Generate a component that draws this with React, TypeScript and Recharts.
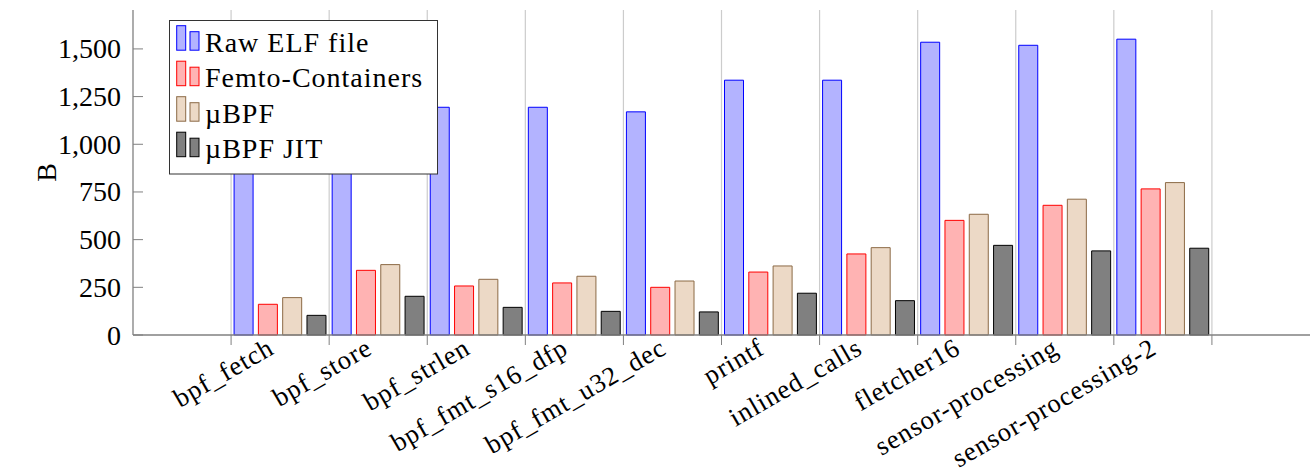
import React from 'react';
import { BarChart, Bar, XAxis, YAxis, CartesianGrid, Legend } from 'recharts';

// benchmark names, padded with an empty slot on each side like the original plot
const categories = [
  'bpf_fetch',
  'bpf_store',
  'bpf_strlen',
  'bpf_fmt_s16_dfp',
  'bpf_fmt_u32_dec',
  'printf',
  'inlined_calls',
  'fletcher16',
  'sensor-processing',
  'sensor-processing-2',
];

const rawElf = [1150, 1160, 1194, 1194, 1170, 1336, 1336, 1535, 1519, 1551];
const femto = [161, 339, 257, 273, 250, 330, 425, 601, 680, 766];
const ubpf = [196, 369, 292, 308, 283, 362, 458, 633, 712, 799];
const ubpfJit = [103, 203, 145, 124, 121, 219, 180, 470, 441, 455];

const yTicks = [0, 250, 500, 750, 1000, 1250, 1500];

const FONT = 'Liberation Serif, serif';
const AXIS = '#808080';

const series = [
  { key: 'raw', name: 'Raw ELF file', fill: '#b3b3ff', stroke: '#0000ff' },
  { key: 'femto', name: 'Femto-Containers', fill: '#ffb3b3', stroke: '#ff0000' },
  { key: 'ubpf', name: 'µBPF', fill: '#ecd9c6', stroke: '#8c6a46' },
  { key: 'jit', name: 'µBPF JIT', fill: '#808080', stroke: '#000000' },
];

const data = [
  { name: '_l' },
  ...categories.map((name, i) => ({
    name,
    raw: rawElf[i],
    femto: femto[i],
    ubpf: ubpf[i],
    jit: ubpfJit[i],
  })),
  { name: '_r' },
];

const fmt = (v: number) => v.toLocaleString('en-US');

const textStyle = { fontFamily: FONT, fontSize: 28, fill: '#000' };

const YTick = ({ x, y, payload }: any) => (
  <g>
    <line x1={x} x2={x + 10} y1={y} y2={y} stroke={AXIS} strokeWidth={1} />
    <text x={x - 12} y={y} textAnchor="end" dominantBaseline="central" style={textStyle}>
      {fmt(payload.value)}
    </text>
  </g>
);

const XTick = ({ x, y, payload, index }: any) => {
  const half = payload.offset ?? 49;
  const left = x - half;
  const label = payload.value === '_l' || payload.value === '_r' ? '' : payload.value;
  const lx = x - 9;
  const ly = y + 10;
  return (
    <g>
      {index >= 1 && (
        <line x1={left} x2={left} y1={y} y2={y + 10} stroke={AXIS} strokeWidth={1} />
      )}
      {label && (
        <text
          x={lx}
          y={ly}
          textAnchor="end"
          dominantBaseline="central"
          transform={`rotate(-30, ${lx}, ${ly})`}
          style={{ ...textStyle, fontSize: 26.5, letterSpacing: 1 }}
        >
          {label}
        </text>
      )}
    </g>
  );
};

const LegendBox = () => {
  const rowH = 35.5;
  return (
    <svg width={270} height={156} style={{ display: 'block' }}>
      <rect x={0.5} y={0.5} width={268} height={153.5} fill="#fff" stroke="#333" strokeWidth={1} />
      {series.map((s, i) => {
        const base = 31.7 + i * rowH;
        return (
          <g key={s.key}>
            <rect x={7.7} y={base - 26} width={9} height={24.5} fill={s.fill} stroke={s.stroke} />
            <rect x={21} y={base - 20} width={9} height={18.5} fill={s.fill} stroke={s.stroke} />
            <text x={36} y={base} style={{ ...textStyle, letterSpacing: 1 }}>
              {s.name}
            </text>
          </g>
        );
      })}
    </svg>
  );
};

const YLabel = ({ viewBox }: any) => {
  const cx = 46;
  const cy = viewBox.y + viewBox.height / 2;
  return (
    <text
      x={cx}
      y={cy}
      textAnchor="middle"
      dominantBaseline="central"
      transform={`rotate(-90, ${cx}, ${cy})`}
      style={textStyle}
    >
      B
    </text>
  );
};

export default function App() {
  return (
    <div style={{ position: 'absolute', left: 0, top: 0, background: '#fff', fontFamily: FONT }}>
      <BarChart
        width={1312}
        height={475}
        data={data}
        margin={{ top: 10, right: 2, bottom: 0, left: 0 }}
        barSize={19}
        barGap={5.3}
      >
        <CartesianGrid
          horizontal={false}
          stroke="#cccccc"
          strokeWidth={1.2}
          verticalCoordinatesGenerator={({ offset }: any) =>
            data.slice(1).map((_, i) => offset.left + ((i + 1) * offset.width) / data.length)
          }
        />
        <XAxis
          dataKey="name"
          interval={0}
          height={140}
          tickLine={false}
          tickSize={0}
          tickMargin={0}
          tick={<XTick />}
          axisLine={{ stroke: AXIS, strokeWidth: 1.3 }}
        />
        <YAxis
          width={133}
          domain={[0, 1704]}
          ticks={yTicks}
          interval={0}
          tickLine={false}
          tickSize={0}
          tickMargin={0}
          tick={<YTick />}
          axisLine={{ stroke: AXIS, strokeWidth: 1.3 }}
          label={<YLabel />}
        />
        <Legend
          verticalAlign="middle"
          align="center"
          layout="horizontal"
          wrapperStyle={{ left: 169, top: 20, width: 270 }}
          content={() => <LegendBox />}
        />
        {series.map((s) => (
          <Bar
            key={s.key}
            dataKey={s.key}
            name={s.name}
            fill={s.fill}
            stroke={s.stroke}
            strokeWidth={1}
            isAnimationActive={false}
          />
        ))}
      </BarChart>
    </div>
  );
}
